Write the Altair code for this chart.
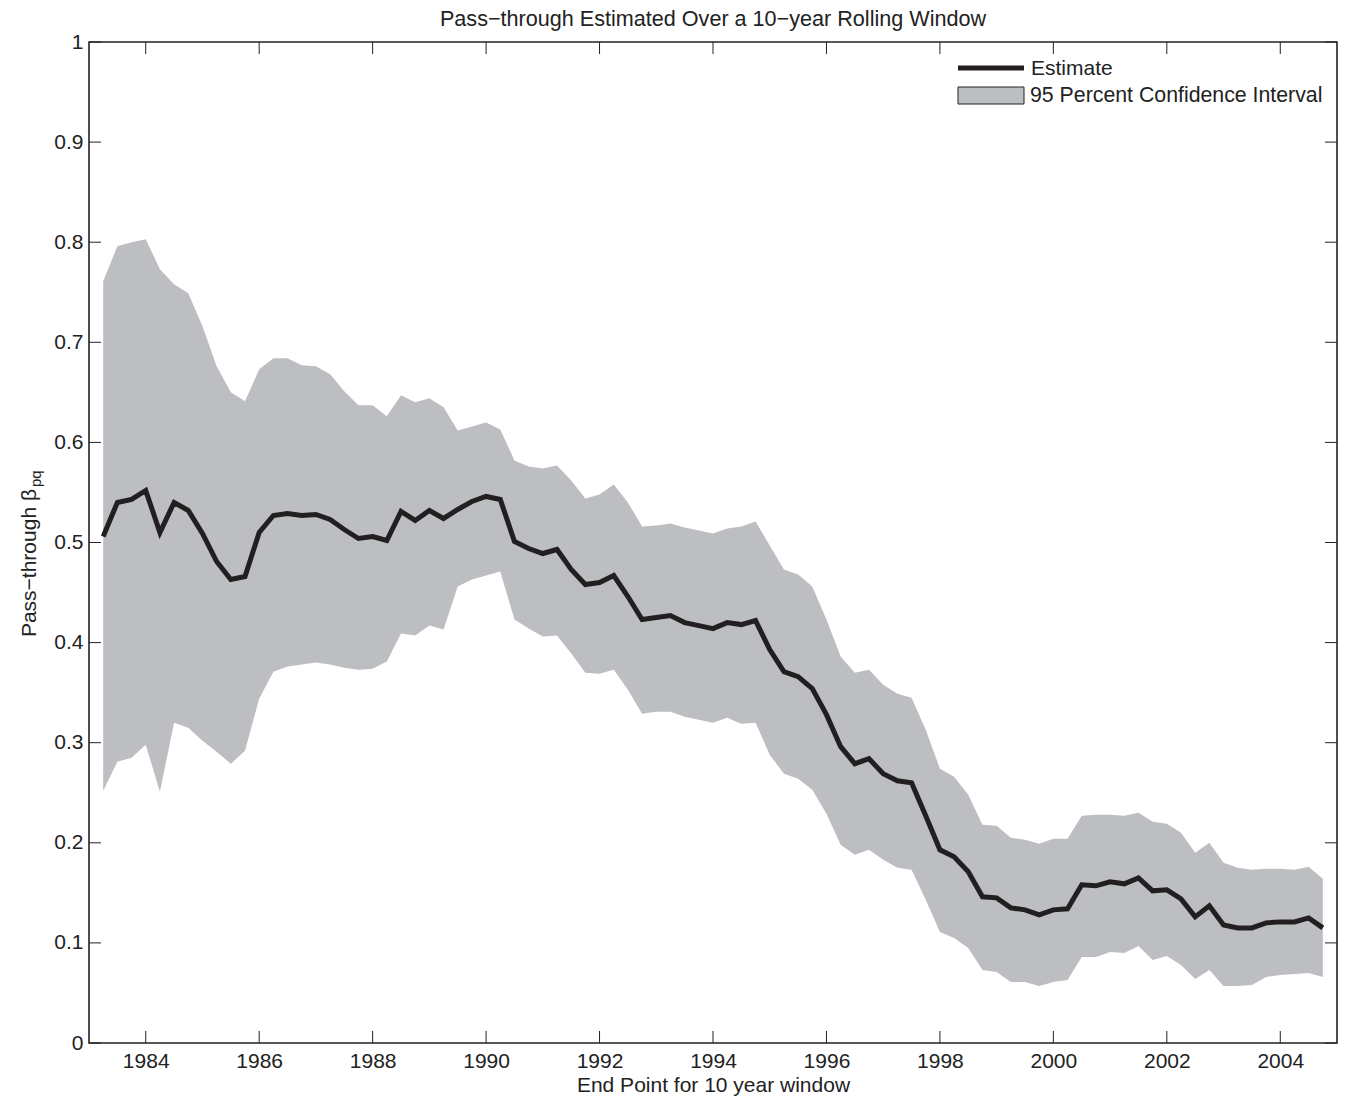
import altair as alt
import pandas as pd

# ---- data (quarterly end points) ----
estimate = [0.506, 0.540, 0.543, 0.552, 0.510, 0.540, 0.532, 0.509, 0.481, 0.463,
            0.466, 0.510, 0.527, 0.529, 0.527, 0.528, 0.523, 0.513, 0.504, 0.506,
            0.502, 0.531, 0.522, 0.532, 0.524, 0.533, 0.541, 0.546, 0.543, 0.501,
            0.494, 0.489, 0.493, 0.473, 0.458, 0.460, 0.467, 0.446, 0.423, 0.425,
            0.427, 0.420, 0.417, 0.414, 0.420, 0.418, 0.422, 0.393, 0.371, 0.366,
            0.354, 0.328, 0.296, 0.279, 0.284, 0.269, 0.262, 0.260, 0.227, 0.193,
            0.186, 0.171, 0.146, 0.145, 0.135, 0.133, 0.128, 0.133, 0.134, 0.158,
            0.157, 0.161, 0.159, 0.165, 0.152, 0.153, 0.144, 0.126, 0.137, 0.118,
            0.115, 0.115, 0.120, 0.121, 0.121, 0.125, 0.115]
upper = [0.761, 0.796, 0.800, 0.803, 0.773, 0.758, 0.749, 0.716, 0.676, 0.650,
         0.641, 0.673, 0.684, 0.684, 0.677, 0.676, 0.668, 0.651, 0.637, 0.637,
         0.626, 0.647, 0.640, 0.644, 0.635, 0.612, 0.616, 0.620, 0.613, 0.582,
         0.576, 0.574, 0.577, 0.562, 0.544, 0.548, 0.558, 0.540, 0.516, 0.517,
         0.519, 0.515, 0.512, 0.509, 0.514, 0.516, 0.521, 0.497, 0.473, 0.468,
         0.456, 0.423, 0.386, 0.370, 0.373, 0.358, 0.349, 0.345, 0.313, 0.274,
         0.266, 0.248, 0.218, 0.217, 0.205, 0.203, 0.199, 0.204, 0.204, 0.227,
         0.228, 0.228, 0.227, 0.230, 0.221, 0.219, 0.210, 0.190, 0.200, 0.180,
         0.175, 0.173, 0.174, 0.174, 0.173, 0.176, 0.164]
lower = [0.252, 0.281, 0.285, 0.298, 0.251, 0.320, 0.315, 0.302, 0.291, 0.279,
         0.292, 0.344, 0.371, 0.376, 0.378, 0.380, 0.378, 0.375, 0.373, 0.374,
         0.381, 0.409, 0.407, 0.417, 0.413, 0.456, 0.463, 0.467, 0.471, 0.423,
         0.414, 0.406, 0.407, 0.389, 0.370, 0.369, 0.373, 0.353, 0.329, 0.331,
         0.331, 0.326, 0.323, 0.320, 0.325, 0.319, 0.320, 0.288, 0.269, 0.264,
         0.253, 0.229, 0.198, 0.188, 0.193, 0.183, 0.175, 0.173, 0.143, 0.111,
         0.105, 0.095, 0.073, 0.071, 0.061, 0.061, 0.057, 0.061, 0.063, 0.086,
         0.086, 0.091, 0.090, 0.097, 0.083, 0.087, 0.078, 0.064, 0.073, 0.057,
         0.057, 0.058, 0.066, 0.068, 0.069, 0.070, 0.066]
first_quarter = 1983.25
years = [first_quarter + 0.25 * i for i in range(len(estimate))]

x_ticks = [1984, 1986, 1988, 1990, 1992, 1994, 1996, 1998, 2000, 2002, 2004]
y_ticks = [0, 0.1, 0.2, 0.3, 0.4, 0.5, 0.6, 0.7, 0.8, 0.9, 1.0]

title_text = "Pass\u2212through Estimated Over a 10\u2212year Rolling Window"
x_title = "End Point for 10 year window"
y_title = "Pass\u2212through \u03b2"
y_sub = "pq"
legend_labels = ["Estimate", "95 Percent Confidence Interval"]

# ---- styling ----
W, H = 1248, 1001
FONT = "Liberation Sans"
FS = 21
TXT = "#222222"
BAND = "#bcbec2"
LINE = "#231f20"
TICK = 12

df = pd.DataFrame({"year": years, "est": estimate, "lo": lower, "hi": upper})
xs = alt.Scale(domain=[1983, 2005], nice=False, zero=False)
ys = alt.Scale(domain=[0, 1], nice=False, zero=False)

x_axis = alt.Axis(values=x_ticks, format="d", grid=False, ticks=False, domain=False,
                  labelFontSize=FS, labelPadding=7, labelColor=TXT, labelFont=FONT,
                  titleFont=FONT, titleFontSize=FS, titleFontWeight="normal",
                  titleColor=TXT, titlePadding=3)
y_axis = alt.Axis(values=y_ticks, format=".1~f", grid=False, ticks=False, domain=False,
                  labelFontSize=FS, labelPadding=6, labelColor=TXT, labelFont=FONT)


def X(field):
    return alt.X(field, scale=xs, axis=x_axis, title=x_title)


def Y(field):
    return alt.Y(field, scale=ys, axis=y_axis, title=None)


band = alt.Chart(df).mark_area(color=BAND, opacity=1).encode(
    x=X("year:Q"), y=Y("lo:Q"), y2="hi:Q")

line = alt.Chart(df).mark_line(color=LINE, strokeWidth=5).encode(
    x=X("year:Q"), y=Y("est:Q"))

xt = pd.DataFrame({"t": x_ticks})
yt = pd.DataFrame({"t": y_ticks})
xtick_bottom = alt.Chart(xt).mark_rule(color=TXT, strokeWidth=1).encode(
    x=X("t:Q"), y=alt.value(H), y2=alt.value(H - TICK))
xtick_top = alt.Chart(xt).mark_rule(color=TXT, strokeWidth=1).encode(
    x=X("t:Q"), y=alt.value(0), y2=alt.value(TICK))
ytick_left = alt.Chart(yt).mark_rule(color=TXT, strokeWidth=1).encode(
    y=Y("t:Q"), x=alt.value(0), x2=alt.value(TICK))
ytick_right = alt.Chart(yt).mark_rule(color=TXT, strokeWidth=1).encode(
    y=Y("t:Q"), x=alt.value(W), x2=alt.value(W - TICK))

# legend (manual, MATLAB style)
leg1 = pd.DataFrame({"label": [legend_labels[0]]})
leg2 = pd.DataFrame({"label": [legend_labels[1]]})
leg_line = alt.Chart(leg1).mark_rule(color=LINE, strokeWidth=5).encode(
    x=alt.value(869), x2=alt.value(935), y=alt.value(26))
leg_rect = alt.Chart(leg2).mark_rect(color=BAND, stroke=TXT, strokeWidth=1).encode(
    x=alt.value(869), x2=alt.value(935), y=alt.value(45), y2=alt.value(62))
leg_text1 = alt.Chart(leg1).mark_text(align="left", baseline="middle", fontSize=FS,
                                      font=FONT, color=TXT).encode(
    text="label:N", x=alt.value(942), y=alt.value(27))
leg_text2 = alt.Chart(leg2).mark_text(align="left", baseline="middle", fontSize=21.3,
                                      font=FONT, color=TXT).encode(
    text="label:N", x=alt.value(941), y=alt.value(54))

# y-axis title with subscript
yl1 = pd.DataFrame({"label": [y_title]})
yl2 = pd.DataFrame({"label": [y_sub]})
ytitle_main = alt.Chart(yl1).mark_text(angle=270, align="right", baseline="alphabetic",
                                       fontSize=FS, font=FONT, color=TXT).encode(
    text="label:N", x=alt.value(-53), y=alt.value(447))
ytitle_sub = alt.Chart(yl2).mark_text(angle=270, align="left", baseline="alphabetic",
                                      fontSize=15, font=FONT, color=TXT).encode(
    text="label:N", x=alt.value(-48), y=alt.value(445))

# chart title as a text mark
tl = pd.DataFrame({"label": [title_text]})
title_mark = alt.Chart(tl).mark_text(align="center", baseline="alphabetic", fontSize=21.6,
                                     font=FONT, color=TXT).encode(
    text="label:N", x=alt.value(W / 2), y=alt.value(-16))

chart = alt.layer(
    band, line, xtick_bottom, xtick_top, ytick_left, ytick_right,
    leg_line, leg_rect, leg_text1, leg_text2, ytitle_main, ytitle_sub, title_mark,
).properties(
    width=W, height=H,
    padding={"left": 81, "top": 34, "right": 3, "bottom": 53},
    autosize=alt.AutoSizeParams(type="none"),
).configure(font=FONT).configure_view(stroke=TXT, strokeWidth=1.6)

chart.save("out.html", embed_options={"renderer": "svg", "actions": False})
